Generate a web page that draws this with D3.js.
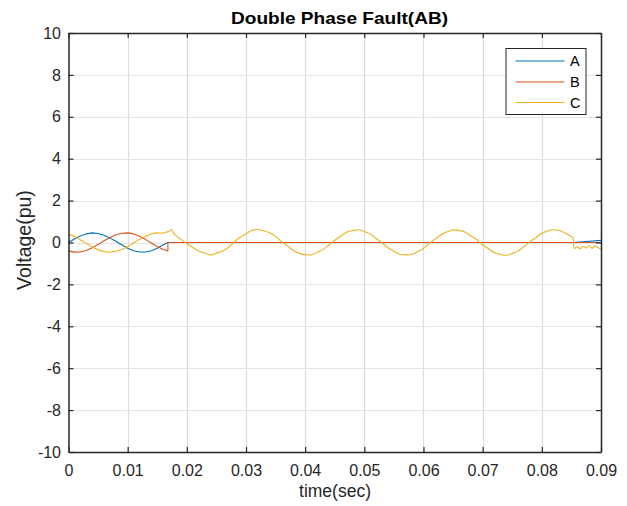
<!DOCTYPE html>
<html>
<head>
<meta charset="utf-8">
<script src="https://cdn.jsdelivr.net/npm/d3@7"></script>
<style>
  body { margin: 0; background: #fff; }
  svg { font-family: "Liberation Sans", Arial, sans-serif; }
</style>
</head>
<body>
<div id="chart"></div>
<script>
// Datos (tiempo en s, tension en pu)
const timeA = [0, 0.001, 0.002, 0.003, 0.004, 0.005, 0.006, 0.007, 0.008, 0.009, 0.010, 0.011, 0.012, 0.013, 0.014, 0.015, 0.016, 0.0168, 0.0853, 0.090];
const valuesA = [0, 0.17, 0.31, 0.41, 0.46, 0.43, 0.35, 0.22, 0.06, -0.11, -0.27, -0.39, -0.45, -0.45, -0.39, -0.27, -0.11, 0, 0, 0.10];

const timeB = [0, 0.001, 0.002, 0.003, 0.004, 0.005, 0.006, 0.007, 0.008, 0.009, 0.010, 0.011, 0.012, 0.013, 0.014, 0.015, 0.016, 0.0168, 0.0168, 0.090];
const valuesB = [-0.40, -0.46, -0.45, -0.38, -0.25, -0.10, 0.08, 0.24, 0.37, 0.44, 0.46, 0.41, 0.30, 0.15, -0.02, -0.19, -0.33, -0.40, 0, 0];

const timeC = [0, 0.001, 0.002, 0.003, 0.004, 0.005, 0.006, 0.007, 0.008, 0.009, 0.010, 0.011, 0.012, 0.013, 0.014, 0.015, 0.016, 0.0165,
  0.017, 0.0174, 0.0178, 0.018, 0.019, 0.020, 0.021, 0.022, 0.023, 0.024, 0.025, 0.026, 0.027, 0.028, 0.029, 0.030,
  0.031, 0.032, 0.033, 0.034, 0.035, 0.036, 0.037, 0.038, 0.039, 0.040, 0.041, 0.042, 0.043, 0.044, 0.045, 0.046,
  0.047, 0.048, 0.049, 0.050, 0.051, 0.052, 0.053, 0.054, 0.055, 0.056, 0.057, 0.058, 0.059, 0.060, 0.061, 0.062,
  0.063, 0.064, 0.065, 0.066, 0.067, 0.068, 0.069, 0.070, 0.071, 0.072, 0.073, 0.074, 0.075, 0.076, 0.077, 0.078,
  0.079, 0.080, 0.081, 0.082, 0.083, 0.084, 0.085, 0.0853, 0.0855, 0.086, 0.0865, 0.087, 0.0875, 0.088, 0.0885, 0.089, 0.0895, 0.090];
const valuesC = [0.40, 0.29, 0.13, -0.04, -0.21, -0.34, -0.43, -0.46, -0.42, -0.33, -0.19, -0.02, 0.15, 0.30, 0.41, 0.46, 0.45, 0.50,
  0.52, 0.62, 0.42, 0.36, 0.15, -0.05, -0.24, -0.40, -0.50, -0.60, -0.50, -0.42, -0.24, 0.02, 0.25, 0.42,
  0.57, 0.62, 0.56, 0.47, 0.29, 0.04, -0.16, -0.38, -0.52, -0.58, -0.60, -0.48, -0.34, -0.12, 0.11, 0.30,
  0.49, 0.57, 0.61, 0.53, 0.40, 0.19, -0.01, -0.25, -0.42, -0.56, -0.59, -0.57, -0.44, -0.28, -0.04, 0.16,
  0.38, 0.51, 0.60, 0.58, 0.50, 0.32, 0.14, -0.11, -0.30, -0.49, -0.57, -0.61, -0.52, -0.40, -0.19, 0.03,
  0.23, 0.44, 0.55, 0.61, 0.57, 0.44, 0.28, 0.20, -0.28, -0.20, -0.30, -0.18, -0.26, -0.14, -0.28, -0.16, -0.24, -0.33];

const seriesNames = ["A", "B", "C"];
const seriesColors = ["#0072BD", "#D95319", "#EDB120"];
const xTicks = [0, 0.01, 0.02, 0.03, 0.04, 0.05, 0.06, 0.07, 0.08, 0.09];
const yTicks = [-10, -8, -6, -4, -2, 0, 2, 4, 6, 8, 10];

const series = [
  { name: seriesNames[0], color: seriesColors[0], curve: d3.curveLinear, pts: timeA.map((t, i) => [t, valuesA[i]]) },
  { name: seriesNames[1], color: seriesColors[1], curve: d3.curveLinear, pts: timeB.map((t, i) => [t, valuesB[i]]) },
  { name: seriesNames[2], color: seriesColors[2], curve: d3.curveCatmullRom.alpha(0.5), pts: timeC.map((t, i) => [t, valuesC[i]]) }
];

// Configuracion
const W = 627, H = 506;
const plotLeft = 68.5, plotRight = 601, plotTop = 33, plotBottom = 452;
const axisColor = "#262626";

const svg = d3.select("#chart")
  .append("svg")
  .attr("width", W)
  .attr("height", H);

const x = d3.scaleLinear().domain([0, 0.09]).range([plotLeft, plotRight]);
const y = d3.scaleLinear().domain([-10, 10]).range([plotBottom, plotTop]);

// Rejilla
svg.append("g").selectAll("line")
  .data(xTicks.slice(1, -1))
  .enter().append("line")
  .attr("x1", d => Math.round(x(d)) + 0.5).attr("x2", d => Math.round(x(d)) + 0.5)
  .attr("y1", plotTop).attr("y2", plotBottom)
  .attr("stroke", "#dcdcdc").attr("stroke-width", 1.2);

svg.append("g").selectAll("line")
  .data(yTicks.slice(1, -1))
  .enter().append("line")
  .attr("y1", d => Math.round(y(d)) + 0.5).attr("y2", d => Math.round(y(d)) + 0.5)
  .attr("x1", plotLeft).attr("x2", plotRight)
  .attr("stroke", "#e4e4e4").attr("stroke-width", 1);

// Curvas
svg.append("g").selectAll("path")
  .data(series)
  .enter().append("path")
  .attr("d", d => d3.line().curve(d.curve).x(p => x(p[0])).y(p => y(p[1]))(d.pts))
  .attr("fill", "none")
  .attr("stroke", d => d.color)
  .attr("stroke-width", 1.1)
  .attr("stroke-linejoin", "round");

// Ejes
const fmtX = d => d === 0 ? "0" : d3.format(".2f")(d);
const fmtY = d => String(d);
const styleAxis = g => {
  g.select(".domain").attr("stroke", axisColor).attr("stroke-width", 1.5);
  g.selectAll(".tick line").attr("stroke", axisColor).attr("stroke-width", 1.2);
  g.selectAll("text").attr("fill", axisColor).style("font-size", "16px");
};

svg.append("g")
  .attr("transform", `translate(0,${plotBottom})`)
  .call(d3.axisBottom(x).tickValues(xTicks).tickFormat(fmtX).tickSizeInner(-5).tickSizeOuter(0).tickPadding(13))
  .call(styleAxis);

svg.append("g")
  .attr("transform", `translate(0,${plotTop})`)
  .call(d3.axisTop(x).tickValues(xTicks).tickFormat("").tickSizeInner(-5).tickSizeOuter(0))
  .call(styleAxis);

svg.append("g")
  .attr("transform", `translate(${plotLeft},0)`)
  .call(d3.axisLeft(y).tickValues(yTicks).tickFormat(fmtY).tickSizeInner(-5).tickSizeOuter(0).tickPadding(7.5))
  .call(styleAxis);

svg.append("g")
  .attr("transform", `translate(${plotRight},0)`)
  .call(d3.axisRight(y).tickValues(yTicks).tickFormat("").tickSizeInner(-5).tickSizeOuter(0))
  .call(styleAxis);

// Titulos
svg.append("text")
  .attr("x", 339.5)
  .attr("y", 24)
  .attr("text-anchor", "middle")
  .attr("fill", "#000")
  .attr("textLength", 217)
  .attr("lengthAdjust", "spacingAndGlyphs")
  .style("font-size", "17px")
  .style("font-weight", "bold")
  .text("Double Phase Fault(AB)");

svg.append("text")
  .attr("x", 335)
  .attr("y", 497)
  .attr("text-anchor", "middle")
  .attr("fill", axisColor)
  .style("font-size", "17.5px")
  .text("time(sec)");

svg.append("text")
  .attr("transform", "rotate(-90)")
  .attr("x", -240)
  .attr("y", 31)
  .attr("text-anchor", "middle")
  .attr("fill", axisColor)
  .style("font-size", "19.5px")
  .text("Voltage(pu)");

// Leyenda
const legend = svg.append("g");
legend.append("rect")
  .attr("x", 506).attr("y", 48.5)
  .attr("width", 80).attr("height", 66)
  .attr("fill", "#fff")
  .attr("stroke", axisColor).attr("stroke-width", 1);

const rowY = [61, 82, 102.5];
series.forEach((s, i) => {
  legend.append("line")
    .attr("x1", 515.5).attr("x2", 564.5)
    .attr("y1", rowY[i]).attr("y2", rowY[i])
    .attr("stroke", s.color).attr("stroke-width", 1.1);
  legend.append("text")
    .attr("x", 570).attr("y", rowY[i])
    .attr("dy", "0.35em")
    .attr("fill", "#000")
    .style("font-size", "14.5px")
    .text(s.name);
});
</script>
</body>
</html>
